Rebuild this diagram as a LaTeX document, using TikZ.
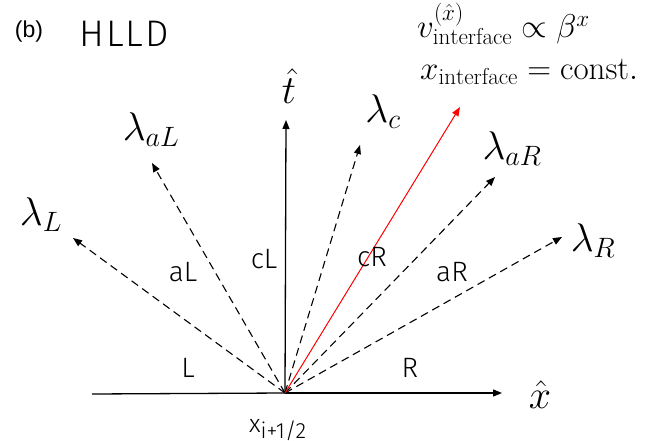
\RequirePackage{fix-cm}
\documentclass[tikz,border=0pt]{standalone}
\usepackage{fontspec}
\usetikzlibrary{arrows.meta}
\newfontfamily\thinfont{Fira Sans Light}
\newfontfamily\regfont{Liberation Sans}
\begin{document}
\begin{tikzpicture}[x=1pt,y=-1pt,
  tip/.style={-{Triangle[length=9pt,width=7pt]}},
  axis/.style={tip,line width=1.3pt},
  wave/.style={tip,line width=1.1pt,dash pattern=on 8pt off 5pt},
  iface/.style={tip,line width=1pt,red},
  lam/.style={inner sep=0pt,font=\fontsize{40}{48}\selectfont},
  region/.style={inner sep=0pt,font=\thinfont\fontsize{28}{34}\selectfont},
  eqn/.style={inner sep=0pt,anchor=base west,font=\fontsize{33}{40}\selectfont}]
\useasboundingbox (0,0) rectangle (669,441);
% points
\coordinate (O) at (285,393);
\coordinate (xl) at (92,394);
\coordinate (xr) at (502,393);
\coordinate (tt) at (286,120);
\coordinate (tL) at (73,238);
\coordinate (taL) at (152,163);
\coordinate (tc) at (360,145);
\coordinate (tred) at (460,107);
\coordinate (taR) at (495,177);
\coordinate (tR) at (562,237);
% axes
\draw[line width=1.3pt] (xl) -- (O);
\draw[axis] (O) -- (xr);
\draw[axis] (O) -- (tt);
% waves
\draw[wave] (O) -- (tL);
\draw[wave] (O) -- (taL);
\draw[wave] (O) -- (tc);
\draw[wave] (O) -- (taR);
\draw[wave] (O) -- (tR);
\draw[iface] (O) -- (tred);
% labels
\node[lam] (lL) at (41,215) {$\lambda_L$};
\node[lam] (laL) at (151,130) {$\lambda_{aL}$};
\node[lam] (lc) at (383,112) {$\lambda_c$};
\node[lam] (laR) at (512,149) {$\lambda_{aR}$};
\node[lam] (lR) at (593,241) {$\lambda_R$};
\node[lam] (th) at (289,86) {$\hat{t}$};
\node[lam] (xh) at (540,395) {$\hat{x}$};
% regions
\node[region] (rL) at (188,368) {L};
\node[region] (rR) at (410,368) {R};
\node[region] (raL) at (183,272) {aL};
\node[region] (rcL) at (264,259) {cL};
\node[region] (rcR) at (372,257) {cR};
\node[region] (raR) at (452,272) {aR};
% position label
\node[inner sep=0pt,anchor=base west,font=\thinfont\fontsize{25}{30}\selectfont] (xi) at (249,432) {x\raisebox{-6pt}{\fontsize{22}{26}\selectfont i+1/2}};
% title
\node[inner sep=0pt,font=\regfont\fontsize{23}{28}\selectfont] (b) at (29,32) {(b)};
\node[inner sep=0pt,font=\thinfont\fontsize{37}{44}\selectfont\addfontfeature{LetterSpace=5}] (hlld) at (124,34) {HLLD};
% equations
\node[eqn] (e1) at (417,38) {$v^{(\hat{x})}_{\mathrm{interface}}\propto\beta^x$};
\node[eqn] (e2) at (420,80) {$x_{\mathrm{interface}}=\mathrm{const.}$};
\end{tikzpicture}
\end{document}
